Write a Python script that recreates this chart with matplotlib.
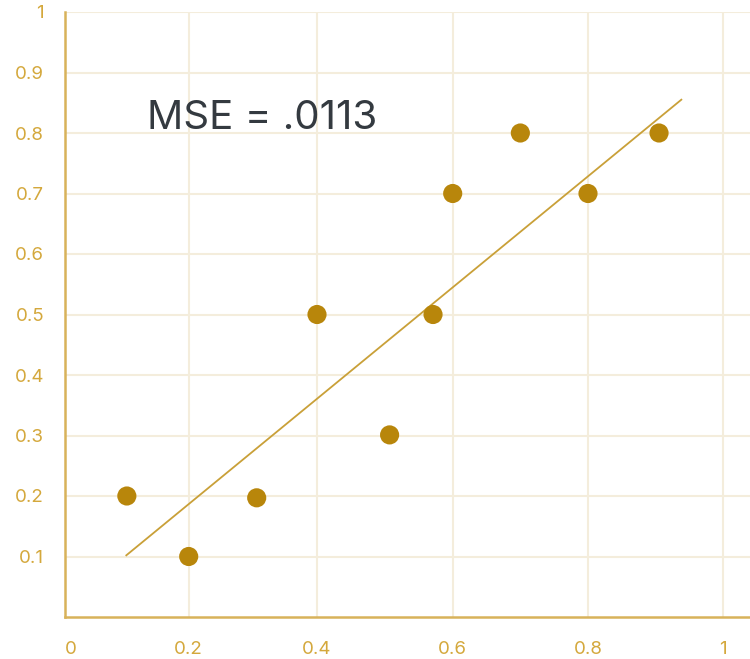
import numpy as np
import matplotlib
matplotlib.use("Agg")
import matplotlib.pyplot as plt

# Observations
x_vals = [0.1, 0.2, 0.306, 0.4, 0.507, 0.571, 0.6, 0.7, 0.8, 0.905]
y_vals = [0.2, 0.1, 0.197, 0.5, 0.301, 0.5, 0.7, 0.8, 0.7, 0.8]

# Fitted line endpoints
fit_x = [0.098, 0.939]
fit_y = [0.101, 0.856]

mse_label = "MSE = .0113"

x_ticks = [0, 0.2, 0.4, 0.6, 0.8, 1]
x_tick_labels = ["0", "0.2", "0.4", "0.6", "0.8", "1"]
y_ticks = [0.1, 0.2, 0.3, 0.4, 0.5, 0.6, 0.7, 0.8, 0.9, 1]
y_tick_labels = ["0.1", "0.2", "0.3", "0.4", "0.5", "0.6", "0.7", "0.8", "0.9", "1"]

# Horizontal scale: tick stops are spaced unevenly along the axis
scale_nodes = np.array([0, 0.2, 0.4, 0.6, 0.8, 1.0, 1.2])
scale_pos = np.array([0, 123.7, 252.0, 387.7, 523.0, 658.3, 793.6])


def fwd(v):
    return np.interp(v, scale_nodes, scale_pos)


def inv(v):
    return np.interp(v, scale_pos, scale_nodes)


plt.rcParams["font.family"] = ["Inter", "DejaVu Sans"]

W, H = 750, 659
fig = plt.figure(figsize=(W / 100, H / 100), dpi=100)
ax = fig.add_axes([65 / W, (H - 617) / H, (W - 65) / W, 605 / H])

ax.set_xscale("function", functions=(fwd, inv))
ax.set_xlim(0, 1 + (750 - 723.3) / 135.3 * 0.2)
ax.set_ylim(0, 1)

grid_col = "#F4EDDC"
axis_col = "#D8B25A"
tick_col = "#D4A83C"
point_col = "#B8860B"
line_col = "#C9A038"

for t in x_ticks[1:]:
    ax.axvline(t, color=grid_col, lw=1.5, zorder=0)
for t in y_ticks:
    ax.axhline(t, color=grid_col, lw=1.5, zorder=0)

ax.plot(fit_x, fit_y, color=line_col, lw=1.3, zorder=2, solid_capstyle="butt")
ax.scatter(x_vals, y_vals, s=190, color=point_col, edgecolors="none", zorder=3)

ax.text(0.1326, 0.806, mse_label, fontsize=29, color="#343A40",
        ha="left", va="baseline", zorder=4)

for side in ["top", "right"]:
    ax.spines[side].set_visible(False)
for side in ["left", "bottom"]:
    ax.spines[side].set_color(axis_col)
    ax.spines[side].set_linewidth(1.8)

ax.set_xticks(x_ticks)
ax.set_xticklabels(x_tick_labels)
ax.set_yticks(y_ticks)
ax.set_yticklabels(y_tick_labels)
ax.tick_params(axis="both", length=0, labelsize=13.5, labelcolor=tick_col)
ax.tick_params(axis="x", pad=17)
ax.tick_params(axis="y", pad=15)
ax.get_xticklabels()[0].set_horizontalalignment("left")

fig.savefig("out.png", dpi=100)
